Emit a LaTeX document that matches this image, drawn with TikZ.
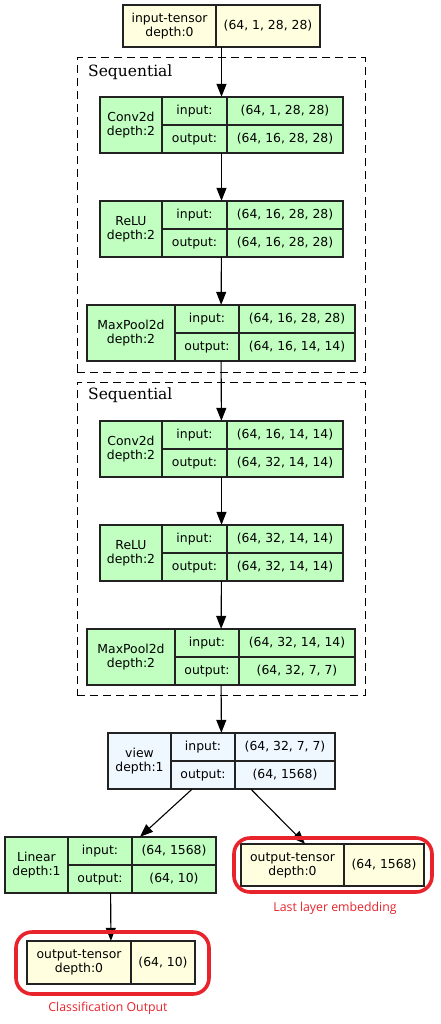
\documentclass[tikz,border=0pt]{standalone}
\usepackage{fontspec}
\setmainfont{DejaVu Sans}
\newfontfamily\seqfont{DejaVu Serif}
\newfontfamily\lblfont{Open Sans}
\usetikzlibrary{arrows.meta}
\definecolor{lgreen}{HTML}{C1FFC1}
\definecolor{lyellow}{HTML}{FFFFE0}
\definecolor{lblue}{HTML}{F0F8FF}
\definecolor{redmark}{HTML}{E8232B}
\definecolor{edge}{HTML}{222222}
\tikzset{
  cellst/.style={draw=edge, line width=1.1pt, inner sep=0pt, align=center,
    font=\fontsize{12.4}{14}\selectfont},
  outerst/.style={inner sep=0pt},
  arr/.style={line width=1.1pt, -{Triangle[length=13pt,width=10pt]}},
  clusterst/.style={draw=black, line width=1pt, dash pattern=on 8pt off 5pt, inner sep=0pt},
  seqst/.style={font=\seqfont\fontsize{15.5}{17}\selectfont, inner sep=0pt, anchor=west},
  ringst/.style={draw=redmark, line width=3.6pt, rounded corners=16pt, inner sep=0pt},
  lblst/.style={text=redmark, font=\lblfont\fontsize{12.3}{14}\selectfont, inner sep=0pt}
}
\newcommand\cellbox[7]{%
  \node[cellst, fill=#6, minimum width={(#4-#2)*1pt}, minimum height={(#5-#3)*1pt}]
    (#1) at ({(#2+#4)/2},{(#3+#5)/2}) {#7};}
% column positions for the next layer box
\newcommand\setcols[4]{\def\lxa{#1}\def\lxb{#2}\def\lxc{#3}\def\lxd{#4}}
% name, fill, y0, y1, title, in, out
\newcommand\layerbox[7]{%
  \pgfmathsetmacro\ymid{(#3+#4)/2}%
  \node[outerst, minimum width={(\lxd-\lxa)*1pt}, minimum height={(#4-#3)*1pt}]
    (#1) at ({(\lxa+\lxd)/2},{(#3+#4)/2}) {};
  \cellbox{#1-t}{\lxa}{#3}{\lxb}{#4}{#2}{#5}
  \cellbox{#1-il}{\lxb}{#3}{\lxc}{\ymid}{#2}{input:}
  \cellbox{#1-ol}{\lxb}{\ymid}{\lxc}{#4}{#2}{output:}
  \cellbox{#1-iv}{\lxc}{#3}{\lxd}{\ymid}{#2}{#6}
  \cellbox{#1-ov}{\lxc}{\ymid}{\lxd}{#4}{#2}{#7}
}
% name, x0,x1,x2, y0,y1, title, value
\newcommand\tensorbox[8]{%
  \node[outerst, minimum width={(#4-#2)*1pt}, minimum height={(#6-#5)*1pt}]
    (#1) at ({(#2+#4)/2},{(#5+#6)/2}) {};
  \cellbox{#1-t}{#2}{#5}{#3}{#6}{lyellow}{#7}
  \cellbox{#1-v}{#3}{#5}{#4}{#6}{lyellow}{#8}
}
\begin{document}
\begin{tikzpicture}[x=1pt,y=-1pt]
\fill[white] (0,0) rectangle (440,1024);
\useasboundingbox (0,0) rectangle (440,1024);

% clusters
\node[clusterst, minimum width=288pt, minimum height=314pt] (seqA) at (221,215) {};
\node[seqst] (seqAl) at (88,72) {Sequential};
\node[clusterst, minimum width=288pt, minimum height=313pt] (seqB) at (221,538.5) {};
\node[seqst] (seqBl) at (88,395) {Sequential};

\tensorbox{inp}{123}{216}{320}{5}{47}{input-tensor\\depth:0}{(64, 1, 28, 28)}

\setcols{100}{162}{227}{343}
\layerbox{convA}{lgreen}{97}{153}{Conv2d\\depth:2}{(64, 1, 28, 28)}{(64, 16, 28, 28)}
\layerbox{reluA}{lgreen}{201}{257}{ReLU\\depth:2}{(64, 16, 28, 28)}{(64, 16, 28, 28)}
\setcols{87}{175}{239}{355}
\layerbox{poolA}{lgreen}{305}{361}{MaxPool2d\\depth:2}{(64, 16, 28, 28)}{(64, 16, 14, 14)}

\setcols{100}{162}{227}{343}
\layerbox{convB}{lgreen}{421}{477}{Conv2d\\depth:2}{(64, 16, 14, 14)}{(64, 32, 14, 14)}
\layerbox{reluB}{lgreen}{525}{581}{ReLU\\depth:2}{(64, 32, 14, 14)}{(64, 32, 14, 14)}
\setcols{87}{175}{239}{355}
\layerbox{poolB}{lgreen}{629}{685}{MaxPool2d\\depth:2}{(64, 32, 14, 14)}{(64, 32, 7, 7)}

\setcols{108}{171}{235}{335}
\layerbox{view}{lblue}{733}{789}{view\\depth:1}{(64, 32, 7, 7)}{(64, 1568)}
\setcols{5}{68}{132}{216}
\layerbox{lin}{lgreen}{837}{893}{Linear\\depth:1}{(64, 1568)}{(64, 10)}

\tensorbox{outR}{241}{344}{424}{844}{886}{output-tensor\\depth:0}{(64, 1568)}
\tensorbox{outL}{27}{131}{195}{941}{984}{output-tensor\\depth:0}{(64, 10)}

% arrows
\draw[arr] (inp) -- (convA);
\draw[arr] (convA) -- (reluA);
\draw[arr] (reluA) -- (poolA);
\draw[arr] (poolA) -- (convB);
\draw[arr] (convB) -- (reluB);
\draw[arr] (reluB) -- (poolB);
\draw[arr] (poolB) -- (view);
\draw[arr] ([xshift=-29.5pt]view.south) -- ([xshift=29.5pt]lin.north);
\draw[arr] ([xshift=29.5pt]view.south) -- ([xshift=-27.5pt]outR.north);
\draw[arr] (lin) -- (outL);

% highlights
\node[ringst, minimum width=198pt, minimum height=54pt] (ringR) at (333,865) {};
\node[ringst, minimum width=193pt, minimum height=62pt] (ringL) at (112.5,963) {};
\node[lblst] (lblR) at (335,908) {Last layer embedding};
\node[lblst] (lblL) at (108,1008) {Classification Output};
\end{tikzpicture}
\end{document}
